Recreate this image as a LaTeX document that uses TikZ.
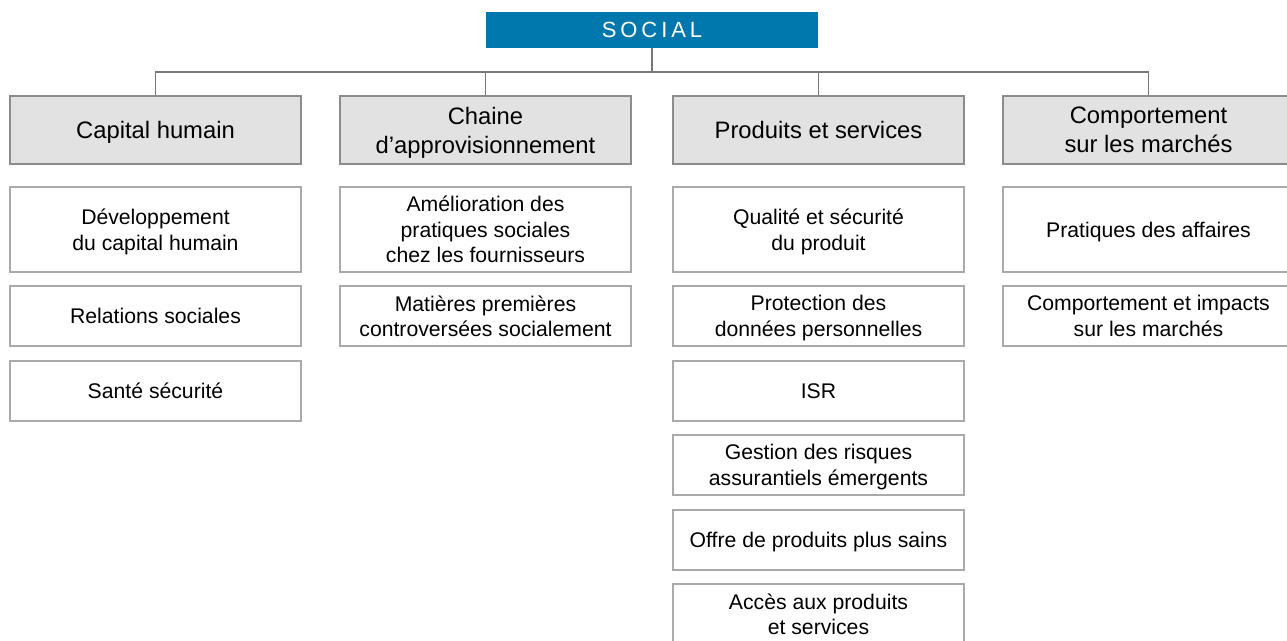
\documentclass[tikz,border=0pt]{standalone}
\usepackage{fontspec}
\setmainfont{Liberation Sans}
\newfontfamily\socialfont[LetterSpace=18]{Liberation Sans}

\definecolor{socialblue}{RGB}{0,120,174}
\definecolor{catgray}{RGB}{225,226,225}
\definecolor{catline}{RGB}{140,140,140}
\definecolor{subline}{RGB}{170,170,170}
\definecolor{linkgray}{RGB}{120,120,120}

\begin{document}
\begin{tikzpicture}[x=0.5pt, y=-0.5pt,
  head/.style={fill=socialblue, text=white, inner sep=0pt, minimum width=166pt, minimum height=18pt, font=\socialfont\fontsize{11}{13}\selectfont},
  cat/.style={draw=catline, fill=catgray, line width=0.6pt, inner sep=0pt, text depth=0pt, minimum width=145.5pt, minimum height=34pt, align=center, font=\fontsize{11.9}{14.5}\selectfont},
  item/.style={draw=subline, fill=white, line width=0.6pt, inner sep=0pt, text depth=0pt, minimum width=145.5pt, align=center, font=\fontsize{10.6}{12.8}\selectfont},
  tall/.style={item, minimum height=42.5pt},
  short/.style={item, minimum height=30pt},
  link/.style={draw=linkgray, line width=0.6pt}]

\useasboundingbox (0,0) rectangle (1287,641);

% Top
\node[head] (social) at (652, 30) {SOCIAL};
\coordinate (bus) at (652, 72);

% Categories
\node[cat] (cap) at (155.5, 130) {Capital humain};
\node[cat] (chaine) at (485.5, 130) {Chaine\\d’approvisionnement};
\node[cat] (prod) at (818.5, 130) {Produits et services};
\node[cat] (comp) at (1148.5, 130) {Comportement\\sur les marchés};

% Links
\draw[link] (social.south) -- (bus);
\foreach \c in {cap, chaine, prod, comp}
  \draw[link] (\c.north) |- (bus);

% Capital humain
\node[tall] (dev) at (155.5, 229.5) {Développement\\du capital humain};
\node[short] (rel) at (155.5, 316) {Relations sociales};
\node[short] (sante) at (155.5, 391) {Santé sécurité};

% Chaine d'approvisionnement
\node[tall] (amel) at (485.5, 229.5) {Amélioration des\\pratiques sociales\\chez les fournisseurs};
\node[short] (mat) at (485.5, 316) {Matières premières\\controversées socialement};

% Produits et services
\node[tall] (qual) at (818.5, 229.5) {Qualité et sécurité\\du produit};
\node[short] (prot) at (818.5, 316) {Protection des\\données personnelles};
\node[short] (isr) at (818.5, 391) {ISR};
\node[short] (gest) at (818.5, 465) {Gestion des risques\\assurantiels émergents};
\node[short] (offre) at (818.5, 540) {Offre de produits plus sains};
\node[short] (acces) at (818.5, 614) {Accès aux produits\\et services};

% Comportement sur les marchés
\node[tall] (prat) at (1148.5, 229.5) {Pratiques des affaires};
\node[short] (impact) at (1148.5, 316) {Comportement et impacts\\sur les marchés};

\end{tikzpicture}
\end{document}
